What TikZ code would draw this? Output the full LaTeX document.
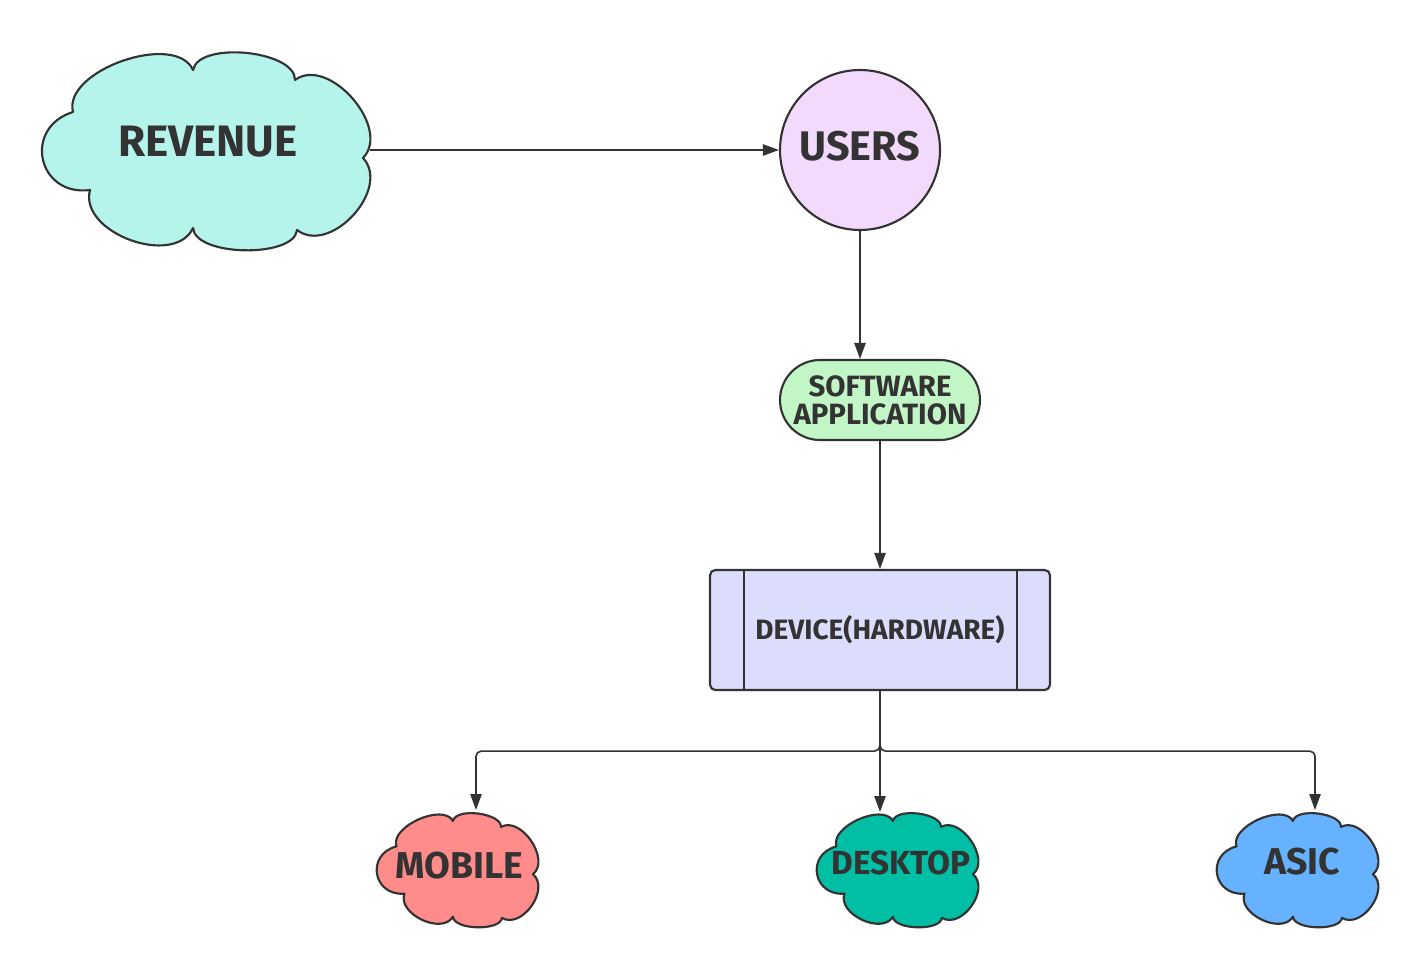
\documentclass[tikz,border=0pt]{standalone}
\usepackage{fontspec}
\setmainfont{Fira Sans}
\usetikzlibrary{arrows.meta,calc}

\definecolor{ink}{HTML}{333333}
\definecolor{revfill}{HTML}{B4F4EA}
\definecolor{userfill}{HTML}{F2DAFC}
\definecolor{softfill}{HTML}{C3F6C6}
\definecolor{devfill}{HTML}{DCDCFC}
\definecolor{mobfill}{HTML}{FF8B8B}
\definecolor{deskfill}{HTML}{00BFA5}
\definecolor{asicfill}{HTML}{66B2FF}

\tikzset{
  shapeline/.style={draw=ink, line width=1.6pt},
  conn/.style={draw=ink, line width=1.2pt, rounded corners=4pt,
    -{Triangle[length=12pt,width=8.5pt]}},
  lbl/.style={text=ink, inner sep=0pt},
  boxnode/.style={inner sep=0pt, outer sep=0pt},
}

% cloud: name, x0, y0, w, h, fill
\newcommand\drawcloud[6]{%
  \node[boxnode, minimum width={#4*0.75pt}, minimum height={#5*0.75pt}] (#1) at ({#2+#4/2},{#3+#5/2}) {};
  \path[shapeline, fill=#6, line join=round]
    ({#2+0.103*#4},{#3+0.303*#5})
    to[bend left=85, looseness=0.86] ({#2+0.456*#4},{#3+0.091*#5})
    to[bend left=85, looseness=0.74] ({#2+0.756*#4},{#3+0.141*#5})
    to[bend left=85, looseness=1.03] ({#2+0.956*#4},{#3+0.535*#5})
    to[bend left=85, looseness=1.10] ({#2+0.762*#4},{#3+0.899*#5})
    to[bend left=85, looseness=0.70] ({#2+0.456*#4},{#3+0.889*#5})
    to[bend left=85, looseness=1.03] ({#2+0.153*#4},{#3+0.697*#5})
    to[bend left=85, looseness=1.70] ({#2+0.103*#4},{#3+0.303*#5})
    -- cycle;
}

\begin{document}
\begin{tikzpicture}[x=0.75pt, y=-0.75pt]
  \useasboundingbox[fill=white] (0,0) rectangle (1428,974);

  % clouds
  \drawcloud{revenue}{38}{52}{340}{198}{revfill}
  \drawcloud{mobile}{380}{810}{160}{120}{mobfill}
  \drawcloud{desktop}{820}{810}{160}{120}{deskfill}
  \drawcloud{asic}{1220}{810}{160}{120}{asicfill}

  % cloud labels
  \node[lbl, font=\bfseries\fontsize{33}{36}\selectfont] (revenuetext) at (208,142) {REVENUE};
  \node[lbl, font=\bfseries\fontsize{28}{30}\selectfont] (mobiletext) at (459,866) {MOBILE};
  \node[lbl, font=\bfseries\fontsize{25}{28}\selectfont] (desktoptext) at (901,863) {DESKTOP};
  \node[lbl, font=\bfseries\fontsize{28}{30}\selectfont] (asictext) at (1302,862) {ASIC};

  % other nodes
  \node[shapeline, circle, fill=userfill, minimum size=120pt, inner sep=0pt,
        text depth=6pt, text=ink, font=\bfseries\fontsize{31}{34}\selectfont] (users) at (860,150) {USERS};
  \node[shapeline, rectangle, rounded corners=30pt, fill=softfill,
        minimum width=150pt, minimum height=60pt, inner sep=0pt, align=center,
        text=ink, font=\bfseries\fontsize{22}{21}\selectfont] (software) at (880,400)
        {SOFTWARE\\APPLICATION};
  \node[shapeline, rectangle, rounded corners=4pt, fill=devfill,
        minimum width=255pt, minimum height=90pt, inner sep=0pt,
        text=ink, font=\bfseries\fontsize{21}{24}\selectfont] (device) at (880,630)
        {DEVICE(HARDWARE)};
  \draw[shapeline] ([xshift=26pt]device.north west) -- ([xshift=26pt]device.south west);
  \draw[shapeline] ([xshift=-25.5pt]device.north east) -- ([xshift=-25.5pt]device.south east);

  % connectors
  \draw[conn, shorten <=-6pt] (revenue.east |- users.west) -- (users.west);
  \draw[conn] (users.south) -- (users.south |- software.north);
  \draw[conn] (software.south) -- (device.north);
  \draw[conn] (device.south) -- ++(0,60) -| ([xshift=12pt]mobile.north);
  \draw[conn] (device.south) -- ([yshift=-1.5pt]device.south |- desktop.north);
  \draw[conn] (device.south) -- ++(0,60) -| ([xshift=11.25pt]asic.north);
\end{tikzpicture}
\end{document}
